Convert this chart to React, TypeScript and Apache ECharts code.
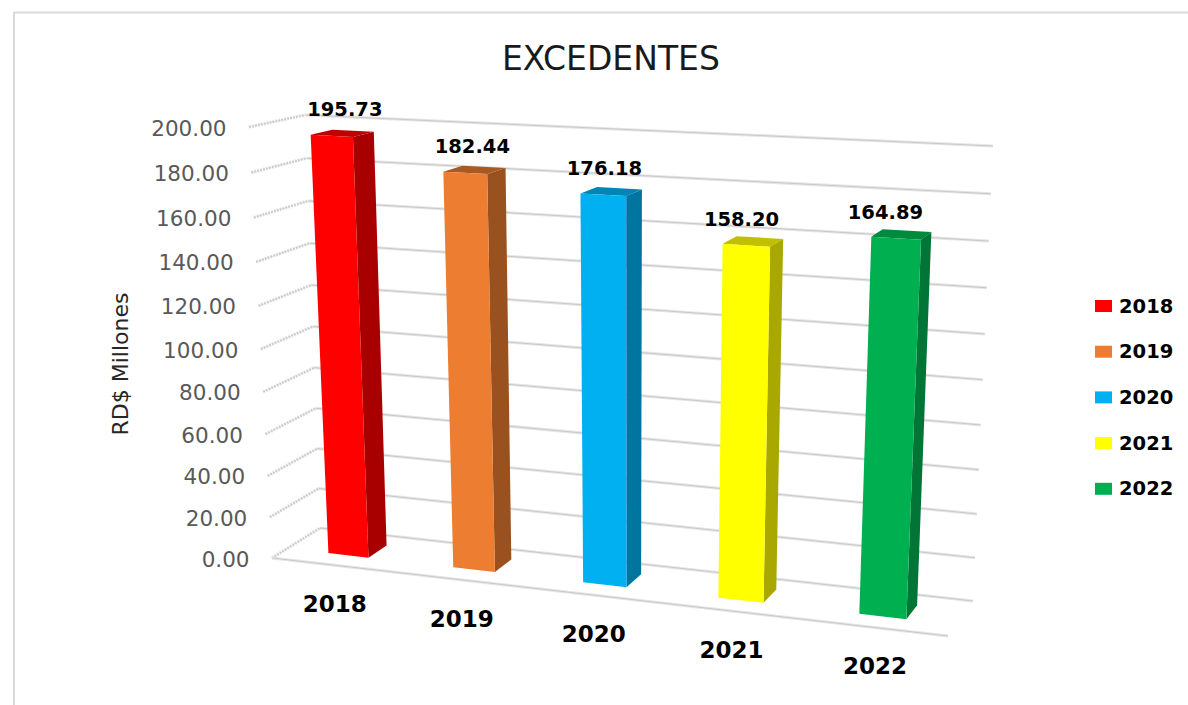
import React, { useEffect, useRef } from "react";
import * as echarts from "echarts";

const TITLE = "EXCEDENTES";
const Y_NAME = "RD$ Millones";
const categories = ["2018", "2019", "2020", "2021", "2022"];
const values = [195.73, 182.44, 176.18, 158.2, 164.89];
const ticks = [0, 20, 40, 60, 80, 100, 120, 140, 160, 180, 200];
const frontColors = ["#ff0000", "#ed7d31", "#00b0f0", "#ffff00", "#00b050"];
const sideColors = ["#a80000", "#99521f", "#0075a0", "#a8a800", "#007535"];
const topColors = ["#bf0000", "#a85a22", "#0085b5", "#c0c000", "#008a3e"];

const FONT = "'DejaVu Sans', sans-serif";

type P = [number, number];
// The plot box seen in perspective: bottom-left, bottom-right, top-right, top-left
const FRONT_QUAD: P[] = [[272, 558], [948, 636], [970, 161], [249, 127]];
const BACK_QUAD: P[] = [[320, 528], [973, 601], [993, 146], [305, 115]];
const BAR_W_FRONT = 0.32;
const BAR_W_BACK = 0.72;
const BAR_BAND = 0.325;

function homography(q: P[]) {
  const [[x0, y0], [x1, y1], [x2, y2], [x3, y3]] = q;
  const dx1 = x1 - x2, dx2 = x3 - x2, sx = x0 - x1 + x2 - x3;
  const dy1 = y1 - y2, dy2 = y3 - y2, sy = y0 - y1 + y2 - y3;
  const det = dx1 * dy2 - dx2 * dy1;
  const g = (sx * dy2 - dx2 * sy) / det;
  const h = (dx1 * sy - sx * dy1) / det;
  const a = x1 - x0 + g * x1, b = x3 - x0 + h * x3;
  const d = y1 - y0 + g * y1, e = y3 - y0 + h * y3;
  return (u: number, v: number): P => {
    const k = g * u + h * v + 1;
    return [(a * u + b * v + x0) / k, (d * u + e * v + y0) / k];
  };
}
const front = homography(FRONT_QUAD);
const back = homography(BACK_QUAD);
// u: along the categories, v: up the value axis, w: depth (0 front, 1 back)
function project(u: number, v: number, w: number): P {
  const a = front(u, v), b = back(u, v);
  return [a[0] + (b[0] - a[0]) * w, a[1] + (b[1] - a[1]) * w];
}
function toUV(params: any, c: number[]) {
  const s = params.coordSys;
  return [(c[0] - s.x) / s.width, (s.y + s.height - c[1]) / s.height];
}

function gridLine(pts: P[], dashed: boolean) {
  const lineDash = dashed ? [2, 1] : undefined;
  return [
    { type: "polyline", shape: { points: pts }, style: { stroke: "#e6e6e6", lineWidth: dashed ? 3.5 : 3, fill: "none", lineDash } },
    { type: "polyline", shape: { points: pts }, style: { stroke: "#c9c9c9", lineWidth: dashed ? 1.5 : 1, fill: "none", lineDash } },
  ];
}

function renderTick(params: any, api: any) {
  const tick = api.value(0);
  const [, v] = toUV(params, api.coord([0, tick]));
  const tip = project(0, v, 0);
  const corner = project(0, v, 1);
  const end = project(1, v, 1);
  const children: any[] = [...gridLine([tip, corner], true), ...gridLine([corner, end], false)];
  if (tick === 0) children.push(...gridLine([tip, project(1, 0, 0)], false));
  children.push({
    type: "text",
    style: {
      text: tick.toFixed(2), x: tip[0] - 22.5, y: tip[1] + 1, align: "right", verticalAlign: "middle",
      font: `21.5px ${FONT}`, fill: "#595959",
    },
  });
  return { type: "group", children };
}

function renderBar(params: any, api: any) {
  const i = api.value(0);
  const val = api.value(1);
  const c = api.coord([i, val]);
  const [uc, v] = toUV(params, c);
  const half = (api.size([1, 0])[0] / params.coordSys.width) * BAR_BAND / 2;
  const u0 = uc - half, u1 = uc + half;
  const wf = BAR_W_FRONT, wb = BAR_W_BACK;
  const poly = (pts: P[], fill: string) => ({ type: "polygon", shape: { points: pts }, style: { fill } });
  const labelAnchor = project(uc, v, 0.25);
  const catAnchor = project(uc, 0, 0);
  return {
    type: "group",
    children: [
      poly([project(u0, v, wf), project(u1, v, wf), project(u1, v, wb), project(u0, v, wb)], topColors[i]),
      poly([project(u1, 0, wf), project(u1, 0, wb), project(u1, v, wb), project(u1, v, wf)], sideColors[i]),
      poly([project(u0, 0, wf), project(u1, 0, wf), project(u1, v, wf), project(u0, v, wf)], frontColors[i]),
      {
        type: "text",
        style: {
          text: val.toFixed(2), x: labelAnchor[0] + 20 - 32 * uc, y: labelAnchor[1] - 27, align: "center", verticalAlign: "middle",
          font: `bold 19.5px ${FONT}`, fill: "#000",
        },
      },
      {
        type: "text",
        style: {
          text: categories[i], x: catAnchor[0] + 1, y: catAnchor[1] + 39, align: "center", verticalAlign: "middle",
          font: `bold 23px ${FONT}`, fill: "#000",
        },
      },
    ],
  };
}

export default function App() {
  const ref = useRef<HTMLDivElement>(null);
  useEffect(() => {
    document.body.style.margin = "0";
    const chart = echarts.init(ref.current!, undefined, { renderer: "svg" });
    chart.setOption({
      animation: false,
      backgroundColor: "#fff",
      title: {
        text: TITLE, left: 497, top: 37,
        textStyle: { fontFamily: "DejaVu Sans", fontWeight: "normal", fontSize: 33, color: "#1a1a1a" },
      },
      grid: { left: 0, right: 0, top: 0, bottom: 0 },
      xAxis: { type: "category", data: categories, show: false },
      yAxis: { type: "value", min: 0, max: 200, interval: 20, show: false },
      legend: {
        data: categories, orient: "vertical", left: 1095, top: 296, padding: 0,
        itemWidth: 17, itemHeight: 12, itemGap: 25.7, selectedMode: false, icon: "rect",
        textStyle: { fontFamily: "DejaVu Sans", fontWeight: "bold", fontSize: 19.5, color: "#000", padding: [0, 0, 0, 2] },
      },
      graphic: [
        {
          type: "polyline", silent: true, z: -1,
          shape: { points: [[14, 705], [14, 12.5], [1188, 12.5]] },
          style: { stroke: "#d9d9d9", lineWidth: 2, fill: "none" },
        },
        {
          type: "text", x: 120, y: 364, rotation: Math.PI / 2,
          style: { text: Y_NAME, align: "center", verticalAlign: "middle", font: `22px ${FONT}`, fill: "#262626" },
        },
      ],
      series: [
        {
          type: "custom", name: "grid", renderItem: renderTick, silent: true, z: 1,
          data: ticks.map((t) => [t]), encode: { y: 0 },
        },
        ...categories.map((c, i) => ({
          type: "custom", name: c, renderItem: renderBar, z: 2 + i,
          itemStyle: { color: frontColors[i] },
          data: [[i, values[i]]], encode: { x: 0, y: 1 },
        })),
      ],
    });
    return () => chart.dispose();
  }, []);
  return <div ref={ref} style={{ position: "fixed", left: 0, top: 0, width: 1188, height: 705 }} />;
}
